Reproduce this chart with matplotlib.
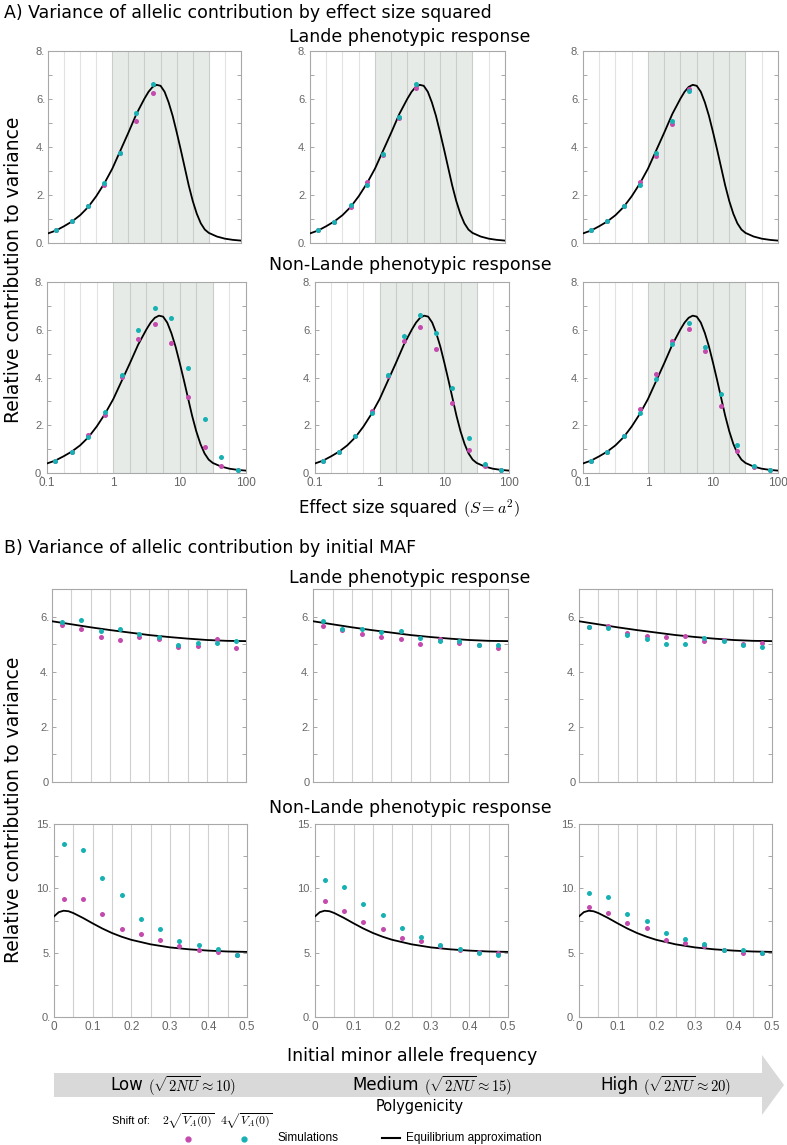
import numpy as np
import matplotlib
matplotlib.use("Agg")
import matplotlib.pyplot as plt
from matplotlib.patches import Polygon
from matplotlib.lines import Line2D

plt.rcParams['mathtext.fontset'] = 'cm'
plt.rcParams['font.family'] = ['DejaVu Sans']

# ---------------- data ----------------
# Panel A: effect size squared bins (bin centres)
S_bins = [0.133, 0.237, 0.422, 0.75, 1.33, 2.37, 4.22, 7.5, 13.3, 23.7, 42.2, 75.0]
S_grid = [0.178, 0.316, 0.562, 1.0, 1.78, 3.16, 5.62, 10.0, 17.8, 31.6, 56.2]
S_shade = [1.0, 31.6]
# equilibrium approximation curve (read off)
curve_logS = [-1.0, -0.875, -0.75, -0.625, -0.5, -0.375, -0.25, -0.125, 0.0, 0.125,
              0.25, 0.375, 0.5, 0.5625, 0.625, 0.6875, 0.75, 0.8125, 0.875, 0.9375,
              1.0, 1.0625, 1.125, 1.1875, 1.25, 1.3125, 1.375, 1.4375, 1.5, 1.625,
              1.75, 1.875, 2.0]
curve_A = [0.40, 0.52, 0.70, 0.90, 1.16, 1.50, 1.95, 2.48, 3.10, 3.85,
           4.60, 5.38, 6.02, 6.30, 6.50, 6.59, 6.55, 6.30, 5.86, 5.30,
           4.62, 3.90, 3.15, 2.40, 1.75, 1.22, 0.82, 0.56, 0.42, 0.27,
           0.18, 0.13, 0.10]

# Lande (top row A) - 7 bins
A_lande_mag = [
    [0.53, 0.90, 1.55, 2.42, 3.74, 5.08, 6.27],
    [0.53, 0.89, 1.48, 2.56, 3.67, 5.22, 6.44],
    [0.53, 0.91, 1.54, 2.54, 3.63, 4.97, 6.42],
]
A_lande_cyan = [
    [0.54, 0.91, 1.54, 2.49, 3.75, 5.43, 6.64],
    [0.53, 0.89, 1.58, 2.40, 3.69, 5.24, 6.63],
    [0.53, 0.92, 1.55, 2.42, 3.74, 5.07, 6.33],
]
# Non-Lande (second row A) - 12 bins
A_nonlande_mag = [
    [0.51, 0.90, 1.58, 2.45, 4.01, 5.62, 6.24, 5.45, 3.17, 1.09, 0.30, 0.13],
    [0.51, 0.90, 1.56, 2.61, 4.08, 5.51, 6.12, 5.20, 2.92, 0.97, 0.28, 0.13],
    [0.51, 0.90, 1.56, 2.67, 4.14, 5.54, 6.02, 5.09, 2.80, 0.93, 0.25, 0.12],
]
A_nonlande_cyan = [
    [0.51, 0.90, 1.51, 2.57, 4.12, 5.98, 6.92, 6.51, 4.40, 2.28, 0.66, 0.14],
    [0.51, 0.90, 1.56, 2.53, 4.10, 5.74, 6.62, 5.86, 3.57, 1.46, 0.39, 0.13],
    [0.51, 0.90, 1.56, 2.53, 3.93, 5.41, 6.30, 5.27, 3.29, 1.16, 0.30, 0.12],
]

# Panel B: initial MAF bins
MAF_bins = [0.025, 0.075, 0.125, 0.175, 0.225, 0.275, 0.325, 0.375, 0.425, 0.475]
MAF_grid = [0.05, 0.1, 0.15, 0.2, 0.25, 0.3, 0.35, 0.4, 0.45]
curveB_top_x = [0.0, 0.05, 0.1, 0.15, 0.2, 0.25, 0.3, 0.35, 0.4, 0.45, 0.5]
curveB_top_y = [5.83, 5.72, 5.61, 5.51, 5.42, 5.33, 5.26, 5.20, 5.15, 5.12, 5.11]
curveB_bot_x = [0.0, 0.0125, 0.025, 0.0375, 0.05, 0.075, 0.1, 0.125, 0.15, 0.175,
                0.2, 0.25, 0.3, 0.35, 0.4, 0.45, 0.5]
curveB_bot_y = [7.82, 8.15, 8.26, 8.22, 8.08, 7.70, 7.28, 6.88, 6.53, 6.24,
                6.00, 5.65, 5.41, 5.26, 5.16, 5.09, 5.06]

B_lande_mag = [
    [5.71, 5.54, 5.27, 5.15, 5.25, 5.18, 4.91, 4.93, 5.18, 4.87],
    [5.64, 5.52, 5.37, 5.27, 5.20, 5.00, 5.20, 5.03, 4.97, 4.86],
    [5.62, 5.64, 5.42, 5.30, 5.26, 5.30, 5.10, 5.15, 5.00, 5.05],
]
B_lande_cyan = [
    [5.81, 5.88, 5.48, 5.54, 5.35, 5.27, 4.96, 5.03, 5.05, 5.13],
    [5.85, 5.54, 5.54, 5.44, 5.49, 5.22, 5.13, 5.13, 4.96, 4.98],
    [5.63, 5.58, 5.32, 5.20, 5.02, 5.00, 5.22, 5.12, 4.98, 4.90],
]
B_nonlande_mag = [
    [9.17, 9.15, 8.00, 6.87, 6.42, 5.96, 5.54, 5.23, 5.03, 4.80],
    [9.04, 8.23, 7.38, 6.83, 6.13, 5.87, 5.48, 5.19, 5.09, 4.96],
    [8.57, 8.05, 7.27, 6.91, 6.00, 5.74, 5.48, 5.19, 4.94, 5.00],
]
B_nonlande_cyan = [
    [13.45, 12.95, 10.80, 9.50, 7.60, 6.87, 5.93, 5.60, 5.28, 4.79],
    [10.65, 10.10, 8.78, 7.90, 6.91, 6.21, 5.56, 5.27, 4.94, 4.81],
    [9.64, 9.32, 8.03, 7.48, 6.55, 6.08, 5.66, 5.19, 5.19, 4.99],
]

A_yticks = [0, 2, 4, 6, 8]
A_yticklabels = ['0.', '2.', '4.', '6.', '8.']
A_xticks = [0.1, 1, 10, 100]
A_xticklabels = ['0.1', '1', '10', '100']
B_top_yticks = [0, 2, 4, 6]
B_top_yticklabels = ['0', '2.', '4.', '6.']
B_bot_yticks = [0, 5, 10, 15]
B_bot_yticklabels = ['0.', '5.', '10.', '15.']
B_xticks = [0, 0.1, 0.2, 0.3, 0.4, 0.5]
B_xticklabels = ['0', '0.1', '0.2', '0.3', '0.4', '0.5']

polygenicity_words = ['Low', 'Medium', 'High']
polygenicity_math = [r'$(\sqrt{2NU}\approx 10)$', r'$(\sqrt{2NU}\approx 15)$',
                     r'$(\sqrt{2NU}\approx 20)$']

MAG = '#c44aae'
CYAN = '#17b1b3'
SHADE = '#e6ebe7'
TICKFONT = ['Liberation Sans', 'DejaVu Sans']
NARROW = ['Liberation Sans Narrow', 'Liberation Sans']

W, H = 787, 1145
fig = plt.figure(figsize=(W / 100, H / 100), dpi=100)
renderer = fig.canvas.get_renderer()


def add_ax(l, t, r, b):
    return fig.add_axes([l / W, 1 - b / H, (r - l) / W, (b - t) / H])


def style(ax, yticks, ylabels, minor_step, ymax):
    for sp in ax.spines.values():
        sp.set_color('#a8a8a8')
        sp.set_linewidth(0.8)
    ax.set_yticks(yticks)
    ax.set_yticklabels(ylabels, family=TICKFONT)
    ax.set_yticks(np.arange(0, ymax + 1e-9, minor_step), minor=True)
    ax.tick_params(axis='y', which='both', direction='in', left=True, right=True,
                   length=3, width=0.6, color='#999999', labelsize=8,
                   labelcolor='#666666', pad=2)
    ax.tick_params(axis='x', which='both', length=0, labelsize=8.5,
                   labelcolor='#666666', pad=3)


A_rects = [
    [(48, 51, 241, 243), (310, 51, 505, 243), (583, 51, 778, 243)],
    [(47, 282, 246, 473), (315, 282, 509, 473), (583, 282, 778, 473)],
]
for row in range(2):
    for col in range(3):
        ax = add_ax(*A_rects[row][col])
        ax.set_xscale('log')
        ax.set_xlim(0.1, 100)
        ax.set_ylim(0, 8)
        ax.axvspan(S_shade[0], S_shade[1], color=SHADE, zorder=0, lw=0)
        for g in S_grid:
            inside = S_shade[0] <= g <= S_shade[1]
            ax.axvline(g, color='#c9cecb' if inside else '#e2e2e2', lw=0.8, zorder=1)
        ax.plot(10 ** np.array(curve_logS), curve_A, color='black', lw=1.3, zorder=3)
        if row == 0:
            mag, cy = A_lande_mag[col], A_lande_cyan[col]
        else:
            mag, cy = A_nonlande_mag[col], A_nonlande_cyan[col]
        ax.scatter(S_bins[:len(mag)], mag, s=13, color=MAG, zorder=4, lw=0)
        ax.scatter(S_bins[:len(cy)], cy, s=13, color=CYAN, zorder=5, lw=0)
        style(ax, A_yticks, A_yticklabels, 1, 8)
        ax.xaxis.set_minor_locator(matplotlib.ticker.NullLocator())
        ax.set_xticks(A_xticks)
        if row == 1:
            ax.set_xticklabels(A_xticklabels, family=TICKFONT)
        else:
            ax.set_xticklabels([])

B_rects = [
    [(52, 589, 246, 782), (313, 589, 508, 782), (579, 589, 772, 782)],
    [(54, 824, 247, 1017), (315, 824, 508, 1017), (579, 824, 772, 1017)],
]
for row in range(2):
    for col in range(3):
        ax = add_ax(*B_rects[row][col])
        ax.set_xlim(0, 0.5)
        for g in MAF_grid:
            ax.axvline(g, color='#d0d0d0', lw=0.8, zorder=1)
        if row == 0:
            ax.set_ylim(0, 7)
            ax.plot(curveB_top_x, curveB_top_y, color='black', lw=1.3, zorder=3)
            mag, cy = B_lande_mag[col], B_lande_cyan[col]
            style(ax, B_top_yticks, B_top_yticklabels, 1, 7)
        else:
            ax.set_ylim(0, 15)
            ax.plot(curveB_bot_x, curveB_bot_y, color='black', lw=1.3, zorder=3)
            mag, cy = B_nonlande_mag[col], B_nonlande_cyan[col]
            style(ax, B_bot_yticks, B_bot_yticklabels, 2.5, 15)
        ax.scatter(MAF_bins, mag, s=13, color=MAG, zorder=4, lw=0)
        ax.scatter(MAF_bins, cy, s=13, color=CYAN, zorder=5, lw=0)
        ax.set_xticks(B_xticks)
        if row == 1:
            ax.set_xticklabels(B_xticklabels, family=TICKFONT)
        else:
            ax.set_xticklabels([])


def ftext(x, y, s, **kw):
    return fig.text(x / W, 1 - y / H, s, **kw)


def word_then_math(x, y, word, mth, wsize, msize, gap=5):
    t = ftext(x, y, word, fontsize=wsize, va='center', ha='left')
    bb = t.get_window_extent(renderer)
    fig.text((bb.x1 + gap) / W, 1 - (y + 1) / H, mth, fontsize=msize,
             va='center', ha='left')


CX = 410
ftext(4, 13, 'A) Variance of allelic contribution by effect size squared',
      fontsize=12.5, va='center', ha='left')
ftext(CX, 37, 'Lande phenotypic response', fontsize=12.5, va='center', ha='center')
ftext(CX, 265, 'Non-Lande phenotypic response', fontsize=12.5, va='center', ha='center')
ftext(14, 270, 'Relative contribution to variance', fontsize=13.5, rotation=90,
      va='center', ha='center')
word_then_math(299, 508, 'Effect size squared', r'$(S=a^2)$', 12, 11.5, gap=6)

ftext(4, 548, 'B) Variance of allelic contribution by initial MAF',
      fontsize=12.5, va='center', ha='left')
ftext(CX, 578, 'Lande phenotypic response', fontsize=12.5, va='center', ha='center')
ftext(CX, 808, 'Non-Lande phenotypic response', fontsize=12.5, va='center', ha='center')
ftext(14, 810, 'Relative contribution to variance', fontsize=13.5, rotation=90,
      va='center', ha='center')
ftext(412, 1056, 'Initial minor allele frequency', fontsize=12.5, va='center',
      ha='center')

# polygenicity arrow
arrow_px = [(54, 1073), (762, 1073), (762, 1055), (784, 1085), (762, 1115),
            (762, 1097), (54, 1097)]
arrow = Polygon([(x / W, 1 - y / H) for x, y in arrow_px], closed=True,
                transform=fig.transFigure, facecolor='#d9d9d9', edgecolor='none')
fig.patches.append(arrow)

for xw, word, mth in zip([110, 352, 600], polygenicity_words, polygenicity_math):
    word_then_math(xw, 1085, word, mth, 12, 10.5)
ftext(420, 1107, 'Polygenicity', fontsize=10.5, va='center', ha='center')

# legend
ftext(112, 1121, 'Shift of:', fontsize=8, va='center', ha='left', family=NARROW)
ftext(162, 1121, r'$2\sqrt{V_A(0)}$', fontsize=8.5, va='center', ha='left')
ftext(220, 1121, r'$4\sqrt{V_A(0)}$', fontsize=8.5, va='center', ha='left')
fig.add_artist(Line2D([188 / W], [1 - 1139 / H], marker='o', markersize=3.5,
                      color=MAG, lw=0, transform=fig.transFigure))
fig.add_artist(Line2D([244 / W], [1 - 1139 / H], marker='o', markersize=3.5,
                      color=CYAN, lw=0, transform=fig.transFigure))
ftext(278, 1138, 'Simulations', fontsize=8.5, va='center', ha='left', family=NARROW)
fig.add_artist(Line2D([382 / W, 400 / W], [1 - 1138 / H, 1 - 1138 / H], color='black',
                      lw=1.5, transform=fig.transFigure))
ftext(406, 1138, 'Equilibrium approximation', fontsize=8.5, va='center', ha='left',
      family=NARROW)

fig.savefig('out.png', dpi=100)
